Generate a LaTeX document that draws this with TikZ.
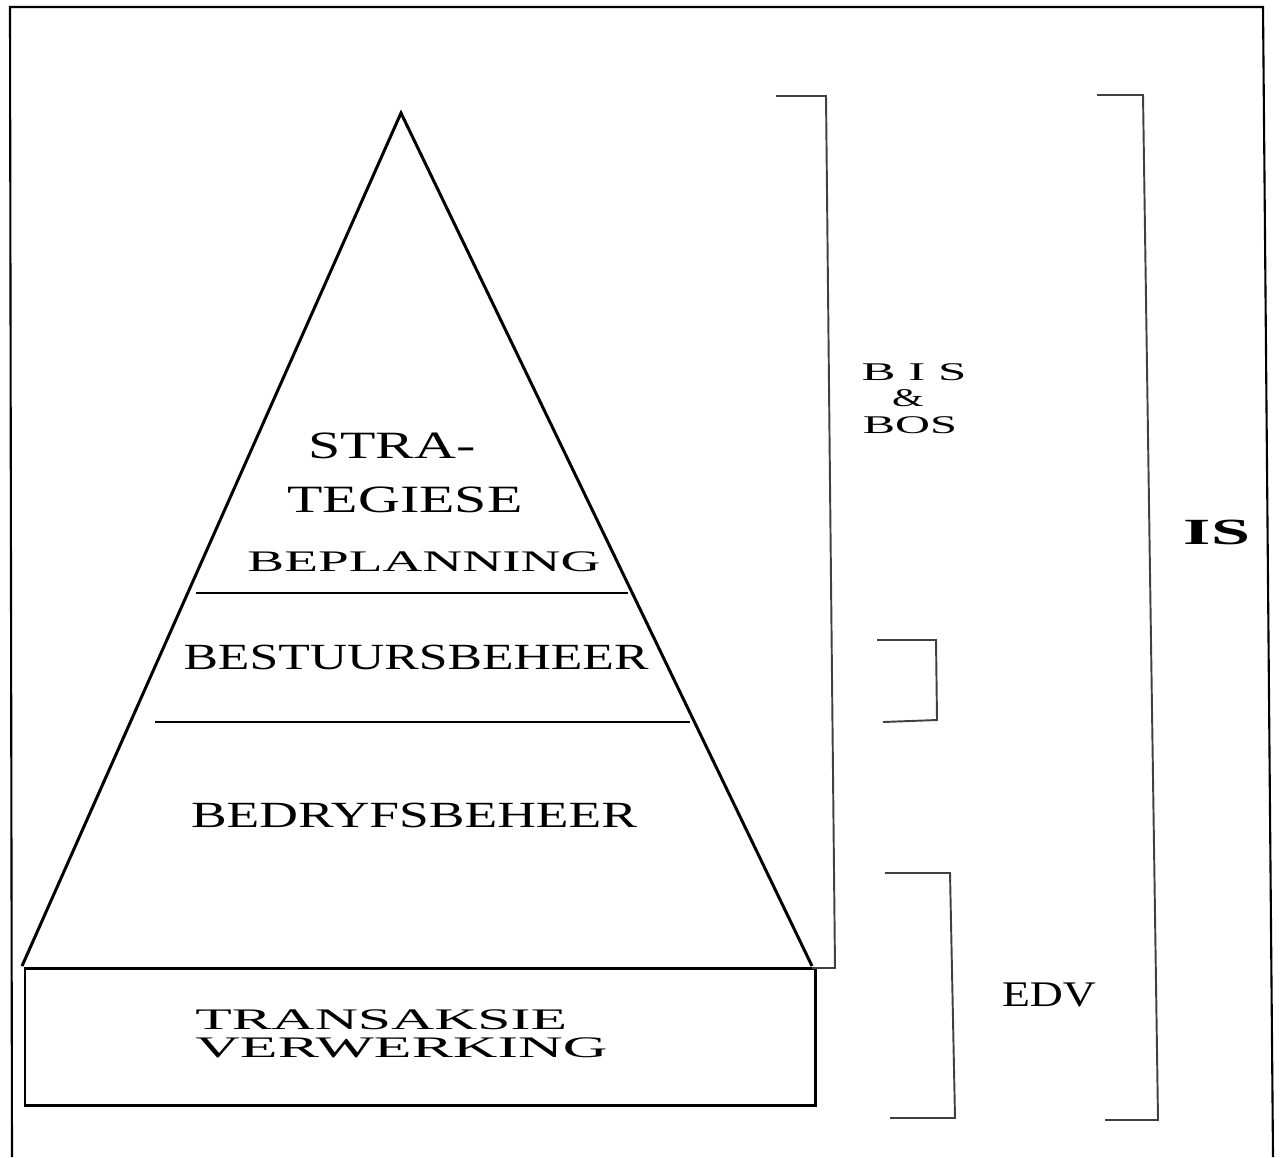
\documentclass[tikz,border=0pt]{standalone}
\usepackage{fontspec}
\setmainfont{Liberation Serif}
\usepackage{graphicx}
\usetikzlibrary{positioning}
\newcommand{\wide}[2]{\scalebox{#1}[1]{#2}}

\begin{document}
\begin{tikzpicture}[x=0.02cm, y=-0.02cm,
      edge/.style = {line width=1.7pt, line join=miter},
     layer/.style = {line width=0.8pt},
      brak/.style = {line width=1.1pt, draw=black!75},
       lbl/.style = {inner sep=0pt, font=\fontsize{21}{25}\selectfont},
     small/.style = {inner sep=0pt, font=\fontsize{14.5}{17}\selectfont}
                    ]
\useasboundingbox (0,0) rectangle (1283,1157);
% frame
\draw[line width=1.2pt] (12,1157) -- (10,7) -- (1263,7) -- (1273,1157);
% pyramid
\coordinate (apex) at (401,113);
\coordinate (bl) at (22,966);
\coordinate (br) at (812,966);
\draw[edge] (bl) -- (apex) -- (br);
\draw[layer] (196,593) -- (628,593);
\draw[layer] (155,722) -- (690,722);
\draw[edge] (25,968) rectangle (815,1105);
% labels
\node (stra) [lbl, font=\fontsize{22}{26}\selectfont] at (392,446) {\wide{1.5}{STRA-}};
\node (teg)  [lbl, font=\fontsize{22}{26}\selectfont] at (405,500) {\wide{1.5}{TEGIESE}};
\node (bepl) [lbl, font=\fontsize{17}{20}\selectfont] at (424,562) {\wide{1.85}{BEPLANNING}};
\node (best) [lbl] at (416,657) {\wide{1.4}{BESTUURSBEHEER}};
\node (bedr) [lbl] at (414,815) {\wide{1.45}{BEDRYFSBEHEER}};
\node (tran) [lbl, font=\fontsize{17}{20}\selectfont, anchor=west] at (195,1020) {\wide{2.0}{TRANSAKSIE}};
\node (verw) [lbl, font=\fontsize{17}{20}\selectfont, anchor=west] at (195,1048) {\wide{2.07}{VERWERKING}};
% brackets
\draw[brak] (776,96) -- (826,96) -- (835,968) -- (812,968);
\draw[brak] (877,640) -- (936,640) -- (937,720) -- (883,722);
\draw[brak] (885,873) -- (950,873) -- (955,1118) -- (890,1118);
\draw[brak] (1097,95) -- (1143,95) -- (1158,1120) -- (1105,1120);
\node (bis) [small] at (914,372) {\wide{2.0}{B I S}};
\node (amp) [small] at (908,398) {\wide{1.6}{\&}};
\node (bos) [small] at (910,425) {\wide{1.9}{BOS}};
\node (edv) [lbl, font=\fontsize{20.5}{24}\selectfont] at (1049,995) {\wide{1.27}{EDV}};
\node (is)  [lbl, font=\bfseries\fontsize{21}{25}\selectfont] at (1217,532) {\wide{1.9}{IS}};
\end{tikzpicture}
\end{document}
